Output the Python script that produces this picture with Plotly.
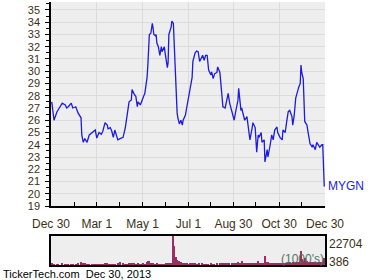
import plotly.graph_objects as go

# ---------------- data ----------------
dates = [
    "2012-12-31","2013-01-03","2013-01-07","2013-01-08","2013-01-14","2013-01-18","2013-01-20","2013-01-22",
    "2013-01-26","2013-01-28","2013-02-01","2013-02-04","2013-02-08","2013-02-09","2013-02-11","2013-02-13",
    "2013-02-16","2013-02-19","2013-02-23","2013-02-24","2013-02-27","2013-03-01","2013-03-04","2013-03-07",
    "2013-03-09","2013-03-12","2013-03-15","2013-03-16","2013-03-19","2013-03-21","2013-03-23","2013-03-25",
    "2013-03-29","2013-04-01","2013-04-05","2013-04-08","2013-04-10","2013-04-13","2013-04-16","2013-04-17",
    "2013-04-20","2013-04-22","2013-04-24","2013-04-25","2013-04-28","2013-04-30","2013-05-02","2013-05-04",
    "2013-05-07","2013-05-08","2013-05-10","2013-05-12","2013-05-14","2013-05-15","2013-05-16","2013-05-18",
    "2013-05-19","2013-05-20","2013-05-22","2013-05-24","2013-05-26","2013-05-27","2013-05-30","2013-05-31",
    "2013-06-01","2013-06-03","2013-06-04","2013-06-05","2013-06-08","2013-06-09","2013-06-11","2013-06-12",
    "2013-06-15","2013-06-16","2013-06-17","2013-06-19","2013-06-21","2013-06-23","2013-06-24","2013-06-27",
    "2013-06-29","2013-07-01","2013-07-03","2013-07-06","2013-07-07","2013-07-10","2013-07-12","2013-07-14",
    "2013-07-16","2013-07-19","2013-07-20","2013-07-22","2013-07-24","2013-07-26","2013-07-28","2013-07-31",
    "2013-08-01","2013-08-03","2013-08-05","2013-08-08","2013-08-09","2013-08-12","2013-08-15","2013-08-16",
    "2013-08-19","2013-08-21","2013-08-23","2013-08-25","2013-08-28","2013-08-29","2013-08-31","2013-09-02",
    "2013-09-04","2013-09-05","2013-09-06","2013-09-09","2013-09-10","2013-09-12","2013-09-14","2013-09-17",
    "2013-09-18","2013-09-21","2013-09-24","2013-09-25","2013-09-28","2013-09-30","2013-10-02","2013-10-03",
    "2013-10-06","2013-10-07","2013-10-10","2013-10-11","2013-10-14","2013-10-15","2013-10-18","2013-10-20",
    "2013-10-22","2013-10-24","2013-10-27","2013-10-28","2013-10-31","2013-11-03","2013-11-04","2013-11-07",
    "2013-11-09","2013-11-11","2013-11-13","2013-11-16","2013-11-17","2013-11-19","2013-11-21","2013-11-23",
    "2013-11-25","2013-11-27","2013-11-28","2013-11-29","2013-12-01","2013-12-03","2013-12-06","2013-12-07",
    "2013-12-10","2013-12-13","2013-12-14","2013-12-17","2013-12-19","2013-12-21","2013-12-23","2013-12-26",
    "2013-12-27","2013-12-29",
]

prices = [
    27.5, 26.0, 26.7, 26.8, 27.4, 27.25, 27.0, 27.1,
    27.4, 27.0, 27.1, 26.6, 26.2, 24.8, 24.2, 24.5,
    24.2, 24.8, 25.0, 25.05, 25.2, 24.55, 25.0, 24.85,
    25.1, 25.8, 25.6, 25.3, 25.4, 25.1, 24.6, 25.2,
    24.4, 24.5, 24.6, 25.4, 26.2, 27.5, 27.65, 28.5,
    28.1, 27.95, 27.1, 27.5, 27.25, 27.65, 27.9, 28.2,
    29.5, 30.5, 33.0, 33.1, 33.9, 33.5, 33.0, 32.9,
    33.0, 32.3, 32.0, 31.3, 32.0, 31.6, 32.0, 31.5,
    31.1, 30.3, 30.7, 33.0, 33.6, 34.1, 33.9, 32.3,
    27.4, 26.6, 26.2, 25.7, 26.0, 25.6, 26.0, 26.4,
    27.1, 27.8, 28.7, 29.5, 30.8, 31.5, 31.65, 31.6,
    30.8, 31.1, 31.3, 30.9, 31.3, 31.3, 30.1, 29.7,
    29.95, 29.4, 29.8, 29.9, 30.35, 29.9, 27.8, 27.1,
    27.0, 27.5, 28.2, 27.4, 26.7, 26.3, 26.0, 26.7,
    27.5, 27.6, 28.6, 26.8, 27.0, 26.6, 26.0, 26.3,
    25.8, 24.4, 25.4, 25.8, 25.4, 23.4, 24.8, 24.6,
    25.0, 24.2, 24.4, 22.6, 23.6, 23.0, 24.0, 24.8,
    24.4, 25.2, 25.45, 25.0, 24.6, 24.4, 25.2, 25.0,
    25.9, 26.7, 26.8, 26.3, 25.6, 26.4, 27.8, 28.3,
    28.7, 29.0, 30.5, 29.9, 29.4, 25.9, 25.6, 25.2,
    24.1, 23.8, 24.0, 23.6, 24.2, 24.0, 23.8, 24.0,
    24.0, 20.6,
]

volumes = [
    1300, 1100, 900, 700, 1200, 800, 700, 900,
    1000, 800, 900, 1500, 2300, 1800, 1500, 1200,
    1000, 900, 1000, 800, 900, 700, 800, 900,
    1000, 1500, 1300, 1100, 900, 1000, 800, 900,
    1400, 2500, 1200, 900, 1000, 1300, 1200, 1500,
    1300, 1100, 1000, 1200, 900, 1000, 1200, 1100,
    2600, 3000, 2800, 1600, 1400, 1200, 1100, 1000,
    900, 1200, 1000, 900, 1100, 1000, 900, 1100,
    1200, 1300, 1000, 1500, 1700, 1500, 22704, 15000,
    6500, 4000, 3000, 3200, 2000, 1500, 1300, 1400,
    1200, 1100, 1300, 1500, 1400, 1200, 1100, 1000,
    1200, 1300, 1100, 1000, 900, 1000, 1100, 1200,
    1000, 900, 1100, 1000, 1300, 1200, 1400, 1300,
    1200, 1500, 1600, 1500, 1700, 1800, 1600, 1700,
    1800, 2000, 1700, 1600, 3500, 1800, 1700, 1600,
    1500, 1800, 1700, 1500, 1600, 1400, 3500, 1700,
    1500, 1600, 1800, 7000, 2500, 2000, 1800, 1700,
    1600, 1500, 1700, 1800, 1600, 1500, 1700, 1800,
    1900, 2000, 2200, 1900, 2100, 2000, 2300, 2500,
    2400, 3000, 11000, 5000, 3500, 5500, 3000, 2500,
    2200, 2000, 2100, 2000, 2300, 2100, 2000, 2200,
    3000, 5500,
]

tick_vals = ["2012-12-30", "2013-03-01", "2013-05-01", "2013-07-01", "2013-08-30", "2013-10-30", "2013-12-30"]
tick_text = ["Dec 30", "Mar 1", "May 1", "Jul 1", "Aug 30", "Oct 30", "Dec 30"]
minor_vals = ["2013-01-30", "2013-03-31", "2013-05-31", "2013-07-31", "2013-09-29", "2013-11-29"]
y_ticks = list(range(19, 36))

symbol = "MYGN"
vol_max_label = "22704"
vol_min_label = "386"
footer = "TickerTech.com  Dec 30, 2013"

# ---------------- figure ----------------
FONT = "Liberation Sans, Arial, sans-serif"
TXT = "#3d3016"
BG = "#eeeeee"
GRID = "#dcdcdc"

fig = go.Figure()
fig.add_trace(go.Scatter(x=dates, y=prices, mode="lines",
                         line=dict(color="#1c1ce0", width=1.3),
                         xaxis="x", yaxis="y", hoverinfo="skip"))
fig.add_trace(go.Bar(x=dates, y=volumes, marker=dict(color="#9b2d62", line=dict(width=0)),
                     width=[2 * 86400000 * 0.9] * len(dates),
                     xaxis="x2", yaxis="y2", hoverinfo="skip"))

xr = ["2012-12-30", "2013-12-30"]
fig.update_layout(
    width=380, height=280,
    margin=dict(l=51, r=55, t=2, b=15),
    paper_bgcolor="white", plot_bgcolor=BG,
    showlegend=False,
    font=dict(family=FONT, size=12, color=TXT),
    bargap=0,
    xaxis=dict(domain=[0, 1], anchor="y", type="date", range=xr,
               tickmode="array", tickvals=tick_vals, ticktext=tick_text,
               ticks="inside", ticklen=4, tickcolor="black",
               showgrid=True, gridcolor=GRID, gridwidth=1,
               showline=True, linecolor="black", linewidth=1.5,
               ticklabelstandoff=6, tickfont=dict(size=12, color=TXT),
               minor=dict(tickmode="array", tickvals=minor_vals, ticks="inside",
                          ticklen=4, tickcolor="black", showgrid=False),
               zeroline=False, fixedrange=True),
    yaxis=dict(domain=[0.2243, 1], anchor="x", range=[19, 35.65],
               tickmode="array", tickvals=y_ticks, ticktext=[str(v) for v in y_ticks],
               ticks="outside", ticklen=4, tickcolor="black",
               showgrid=True, gridcolor=GRID, gridwidth=1,
               showline=True, linecolor="black", linewidth=1.5,
               tickfont=dict(size=11, color=TXT), ticklabelstandoff=3,
               minor=dict(dtick=0.5, tick0=19, ticks="outside", ticklen=3,
                          tickcolor="black", showgrid=False),
               zeroline=False, fixedrange=True),
    xaxis2=dict(domain=[0, 1], anchor="y2", type="date", range=xr,
                showticklabels=False, ticks="", showgrid=False,
                showline=True, linecolor="black", linewidth=1.5, mirror=True,
                zeroline=False, fixedrange=True),
    yaxis2=dict(domain=[0, 0.1103], anchor="x2", range=[0, 22704],
                showticklabels=False, ticks="", showgrid=False,
                showline=True, linecolor="black", linewidth=1.5, mirror=True,
                zeroline=False, fixedrange=True),
)

fig.add_annotation(x=dates[-1], y=prices[-1], xref="x", yref="y", text=symbol,
                   showarrow=False, xanchor="left", yanchor="middle", xshift=2,
                   font=dict(family=FONT, size=12, color="#1c1ce0"))
fig.add_annotation(x=1, y=0.72, xref="x2 domain", yref="y2 domain", text=vol_max_label,
                   showarrow=False, xanchor="left", yanchor="middle", xshift=2,
                   font=dict(family=FONT, size=12, color=TXT))
fig.add_annotation(x=1, y=0.1, xref="x2 domain", yref="y2 domain", text=vol_min_label,
                   showarrow=False, xanchor="left", yanchor="middle", xshift=2,
                   font=dict(family=FONT, size=12, color=TXT))
fig.add_annotation(x=1, y=0.21, xref="x2 domain", yref="y2 domain", text="(1000's)",
                   showarrow=False, xanchor="right", yanchor="middle", xshift=1,
                   font=dict(family=FONT, size=12, color="#4e7560"))
fig.add_annotation(x=0, y=0, xref="paper", yref="paper", text=footer,
                   showarrow=False, xanchor="left", yanchor="top", xshift=-50, yshift=-1,
                   font=dict(family=FONT, size=11, color="black"))

fig.write_html("out.html")
